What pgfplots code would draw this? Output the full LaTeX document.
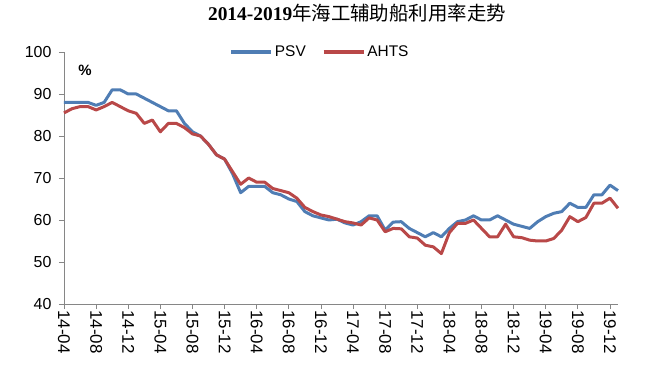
\documentclass[border=0pt]{standalone}
\usepackage{fontspec}
\setmainfont{Liberation Sans}
\newfontfamily\cjk{Noto Sans CJK SC}
\newfontfamily\seriff{Liberation Serif}
\usepackage{pgfplots}
\pgfplotsset{compat=1.18}
\usepackage{pgfplotstable}
\definecolor{psv}{RGB}{79,125,180}
\definecolor{ahts}{RGB}{185,72,72}
\definecolor{axgray}{RGB}{134,134,134}

\pgfplotstableread{
m psv ahts
0 88 85.5
1 88 86.5
2 88 87
3 88 87
4 87.3 86.2
5 88 87
6 91 88
7 91 87
8 90 86
9 90 85.4
10 89 83
11 88 83.8
12 87 81
13 86 83
14 86 83
15 83 82
16 81 80.5
17 80 80
18 78 78
19 75.5 75.5
20 74.5 74.5
21 71 71.5
22 66.5 68.5
23 68 70
24 68 69
25 68 69
26 66.5 67.5
27 66 67
28 65 66.5
29 64.4 65.2
30 62 63
31 61 62
32 60.5 61.2
33 60 60.8
34 60.2 60.2
35 59.3 59.6
36 58.8 59.3
37 59.6 58.8
38 61 60.5
39 61 60
40 57.6 57.2
41 59.5 58
42 59.6 57.9
43 58 56
44 57 55.7
45 56 54
46 57 53.6
47 56 52
48 58 57
49 59.6 59.2
50 60 59.2
51 61 60
52 60 58
53 60 56
54 61 56
55 60 59
56 59 56
57 58.5 55.8
58 58 55.2
59 59.6 55
60 60.8 55
61 61.6 55.6
62 62 57.6
63 64 60.8
64 63 59.6
65 63 60.6
66 66 64
67 66 64
68 68.3 65.2
69 67 62.8
}\datatable

\begin{document}
\begin{tikzpicture}
\path[use as bounding box] (0bp,0bp) rectangle (654bp,380bp);
\node[font=\fontsize{19.5}{21}\selectfont, text=black] at (357bp,367bp) {\seriff\bfseries 2014-2019\cjk\mdseries 年海工辅助船利用率走势};
\begin{axis}[
  at={(64bp,76bp)}, anchor=south west,
  scale only axis, width=554bp, height=252bp,
  xmin=0, xmax=69, ymin=40, ymax=100,
  axis x line*=bottom, axis y line*=left,
  axis line style={axgray, line width=0.8bp},
  tick style={axgray, line width=0.8bp},
  major tick length=5bp, tick align=outside,
  xtick={0,4,...,68},
  xticklabels={14-04,14-08,14-12,15-04,15-08,15-12,16-04,16-08,16-12,17-04,17-08,17-12,18-04,18-08,18-12,19-04,19-08,19-12},
  ytick={40,50,...,100},
  /pgf/number format/assume math mode=true,
  xticklabel style={rotate=-90, anchor=west, font=\fontsize{17}{17}\selectfont, text=black, xshift=-2bp},
  yticklabel style={font=\fontsize{16}{16}\selectfont, text=black, xshift=-4bp},
  legend style={at={(0.462,1.0)}, anchor=center, draw=none, fill=none,
    legend columns=2, font=\fontsize{15.5}{15.5}\selectfont,
    /tikz/every even column/.append style={column sep=14bp}},
  legend image code/.code={\draw[#1, line width=3.5bp] (0bp,0bp) -- (40bp,0bp);},
  clip=false,
]
\addplot[psv, line width=3bp, line join=round] table[x=m, y=psv] {\datatable};
\addplot[ahts, line width=3bp, line join=round] table[x=m, y=ahts] {\datatable};
\legend{PSV, AHTS}
\node[font=\bfseries\fontsize{15}{15}\selectfont] at (rel axis cs:0.038,0.929) {\%};
\end{axis}
\end{tikzpicture}
\end{document}
